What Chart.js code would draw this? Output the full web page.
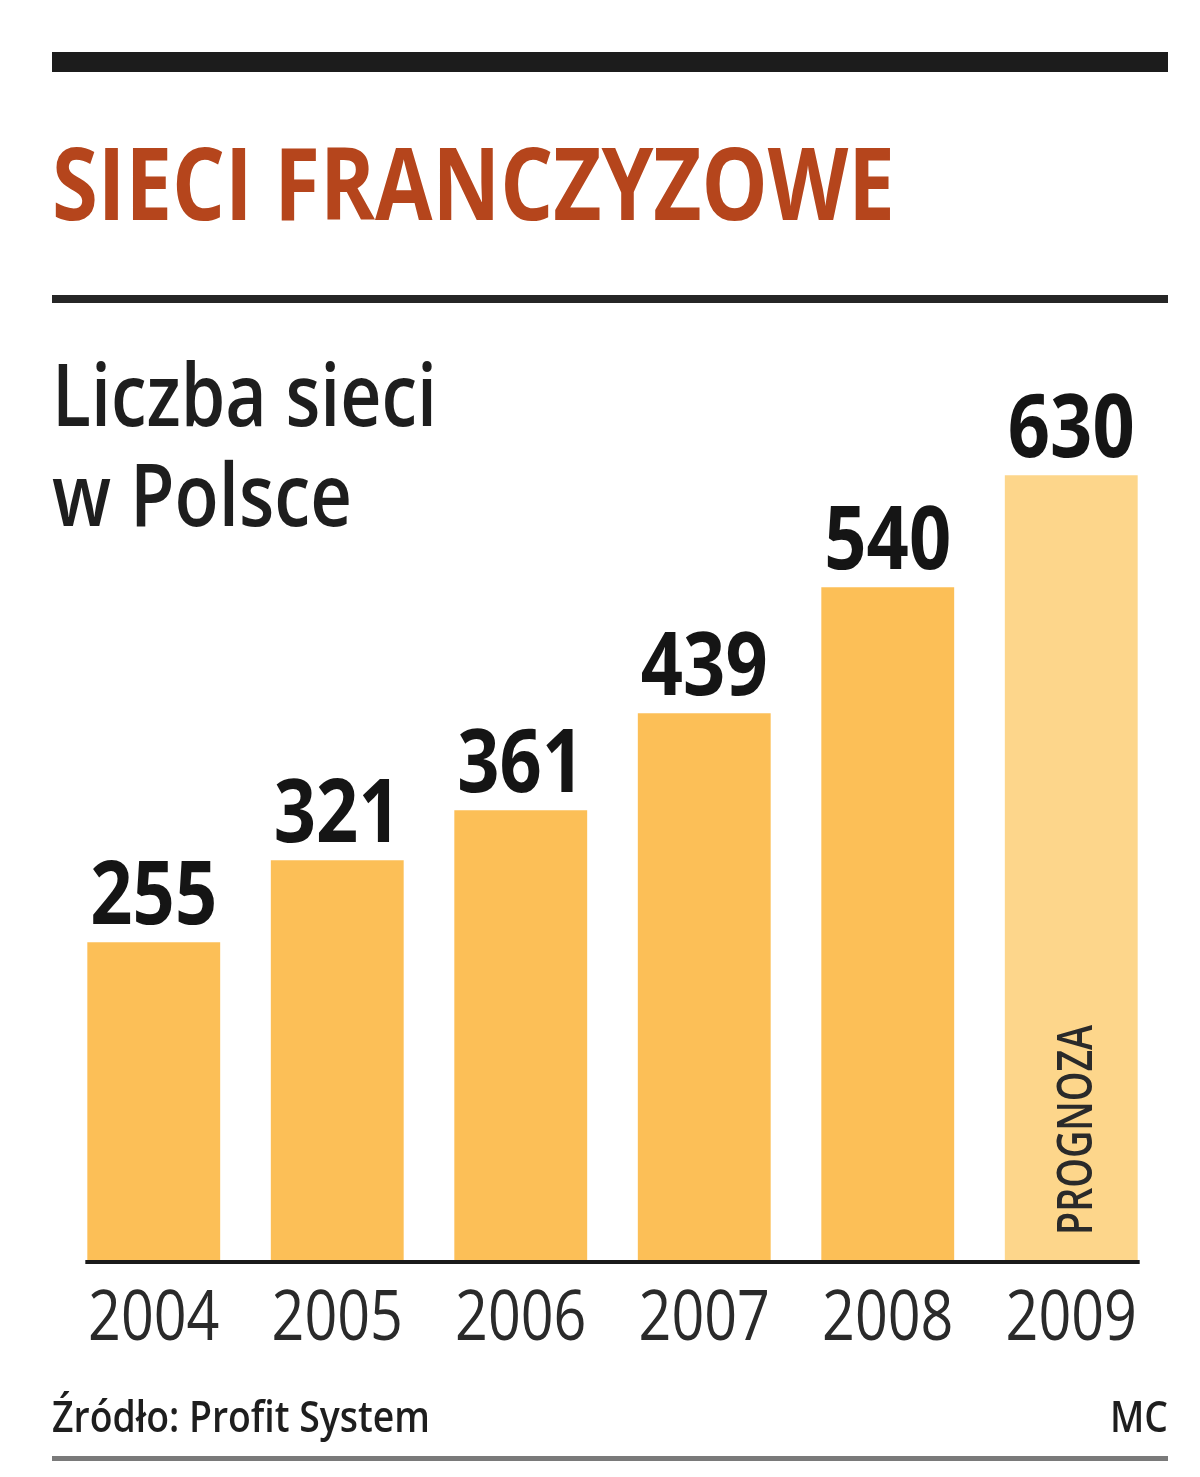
<!DOCTYPE html>
<html>
<head>
<meta charset="utf-8">
<script src="https://cdn.jsdelivr.net/npm/chart.js@4"></script>
<style>
  html, body { margin: 0; padding: 0; background: #fff; }
  #wrap { position: relative; width: 1200px; height: 1477px; }
</style>
</head>
<body>
<div id="wrap"><canvas id="chart"></canvas></div>
<script>
// dane z wykresu
const years = ['2004', '2005', '2006', '2007', '2008', '2009'];
const networks = [255, 321, 361, 439, 540, 630];
const forecastIndex = 5; // 2009 = prognoza

const barColor = '#fcbf57';
const forecastColor = '#fdd68b';
const ink = '#1e1e1e';

// tekst zwezony do zadanej szerokosci
function fitText(ctx, text, x, y, font, width, align) {
  ctx.save();
  ctx.font = font;
  const w = ctx.measureText(text).width;
  const sx = width / w;
  ctx.translate(align === 'right' ? x - width : align === 'center' ? x - width / 2 : x, y);
  ctx.scale(sx, 1);
  ctx.textAlign = 'left';
  ctx.textBaseline = 'alphabetic';
  ctx.fillText(text, 0, 0);
  ctx.restore();
}

function condText(ctx, text, x, y, font, sx) {
  ctx.save();
  ctx.font = font;
  ctx.translate(x, y);
  ctx.scale(sx, 1);
  ctx.textAlign = 'center';
  ctx.textBaseline = 'alphabetic';
  ctx.fillText(text, 0, 0);
  ctx.restore();
}

const decor = {
  id: 'decor',
  afterDraw(chart) {
    const ctx = chart.ctx;
    const x = chart.scales.x, y = chart.scales.y;
    const meta = chart.getDatasetMeta(0);

    // linie naglowka i stopki
    ctx.fillStyle = '#1c1c1c';
    ctx.fillRect(52, 52, 1116, 20);
    ctx.fillStyle = '#262626';
    ctx.fillRect(52, 295, 1116, 8);
    ctx.fillStyle = '#7a7a7a';
    ctx.fillRect(52, 1456, 1116, 5);

    // tytul
    ctx.fillStyle = '#b5451c';
    fitText(ctx, 'SIECI FRANCZYZOWE', 52, 220, 'bold 100px "Open Sans"', 843);

    // podtytul
    ctx.fillStyle = ink;
    fitText(ctx, 'Liczba sieci', 52, 426, '600 86px "Open Sans"', 385);
    fitText(ctx, 'w Polsce', 52, 526, '600 86px "Open Sans"', 300);

    // os pozioma
    const first = meta.data[0], last = meta.data[meta.data.length - 1];
    const base = y.getPixelForValue(0);
    ctx.fillStyle = '#1a1a1a';
    ctx.fillRect(first.x - first.width / 2 - 2, base, (last.x + last.width / 2) - (first.x - first.width / 2) + 4, 4);

    // wartosci i lata
    meta.data.forEach((bar, i) => {
      ctx.fillStyle = '#151515';
      condText(ctx, String(networks[i]), bar.x, bar.y - 18, 'bold 88px "Open Sans"', 0.84);
      ctx.fillStyle = '#2a2a2a';
      condText(ctx, years[i], bar.x, 1340, '70px "Open Sans"', 0.82);
    });

    // PROGNOZA
    const fb = meta.data[forecastIndex];
    ctx.save();
    ctx.fillStyle = '#2a2a2a';
    ctx.translate(fb.x + 21, base - 25);
    ctx.rotate(-Math.PI / 2);
    ctx.font = '600 48px "Open Sans"';
    const w = ctx.measureText('PROGNOZA').width;
    ctx.scale(210 / w, 1);
    ctx.textAlign = 'left';
    ctx.fillText('PROGNOZA', 0, 0);
    ctx.restore();

    // stopka
    ctx.fillStyle = ink;
    fitText(ctx, 'Źródło: Profit System', 52, 1432, '600 44px "Open Sans"', 378);
    fitText(ctx, 'MC', 1168, 1432, '600 44px "Open Sans"', 58, 'right');
  }
};

new Chart(document.getElementById('chart'), {
  type: 'bar',
  data: {
    labels: years,
    datasets: [{
      data: networks,
      backgroundColor: networks.map((_, i) => i === forecastIndex ? forecastColor : barColor),
      borderWidth: 0,
      categoryPercentage: 1,
      barPercentage: 0.724
    }]
  },
  options: {
    responsive: true,
    maintainAspectRatio: false,
    animation: false,
    devicePixelRatio: 1,
    layout: { padding: { left: 62, right: 37, top: 388, bottom: 217 } },
    plugins: { legend: { display: false }, tooltip: { enabled: false } },
    scales: {
      x: { display: false, grid: { display: false } },
      y: { display: false, min: 0, max: 700, grid: { display: false } }
    }
  },
  plugins: [decor]
});
</script>
</body>
</html>
